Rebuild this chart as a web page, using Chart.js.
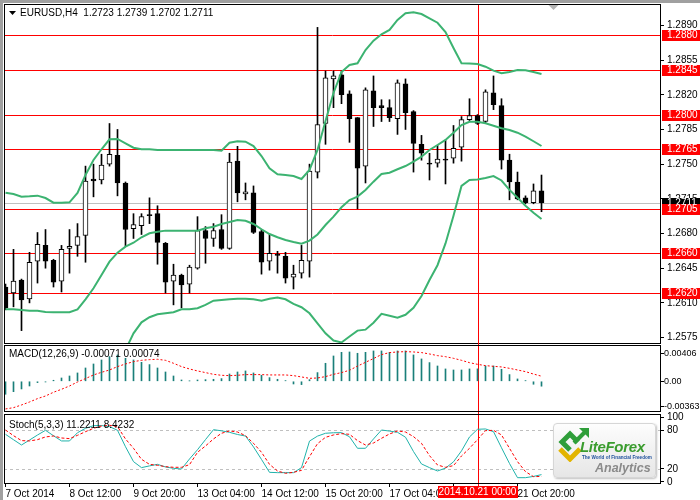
<!DOCTYPE html>
<html><head><meta charset="utf-8">
<script src="https://cdn.jsdelivr.net/npm/chart.js@4"></script>
<style>
html,body{margin:0;padding:0;background:#fff;}
#wrap{position:relative;width:700px;height:500px;overflow:hidden;background:#fff;font-family:"Liberation Sans",Arial,sans-serif;}
canvas{position:absolute;left:0;top:0;pointer-events:none;}
.lbl{position:absolute;font-size:10px;color:#000;white-space:pre;line-height:12px;}
#winTop{position:absolute;left:0;top:0;width:700px;height:3px;background:#a0a0a0;}
#winLeft{position:absolute;left:0;top:0;width:3px;height:500px;background:#a0a0a0;}
#logo{position:absolute;left:553px;top:423px;width:101px;height:53px;border:1px solid #d6d6d6;border-radius:4px;background:linear-gradient(#fdfdfd,#e6e6e6);box-shadow:1px 1px 2px rgba(0,0,0,0.25);overflow:hidden;}
#logo .lf{position:absolute;left:26px;top:14px;font:italic bold 15px "Liberation Sans",Arial,sans-serif;color:#3a9c2e;letter-spacing:-0.3px;white-space:nowrap;}
#logo .tag{position:absolute;left:28px;top:31px;font:bold 4.6px "Liberation Sans",Arial,sans-serif;color:#1d4f9c;white-space:nowrap;}
#logo .an{position:absolute;left:41px;top:37px;font:italic bold 12.5px "Liberation Sans",Arial,sans-serif;color:#8a8a8a;white-space:nowrap;}
</style></head>
<body>
<div id="wrap">
<canvas id="cMain" width="700" height="500"></canvas>
<canvas id="cMacd" width="700" height="500"></canvas>
<canvas id="cStoch" width="700" height="500"></canvas>
<div id="winTop"></div><div id="winLeft"></div>
<div class="lbl" id="tMain" style="left:20px;top:7px"></div>
<div class="lbl" id="tMacd" style="left:9px;top:348px"></div>
<div class="lbl" id="tStoch" style="left:9px;top:419px"></div>
<div id="logo">
 <svg width="34" height="34" viewBox="0 0 34 34" style="position:absolute;left:3px;top:4px">
  <polyline points="3,21 13,31 23,21" fill="none" stroke="#e2b400" stroke-width="5"/>
  <polyline points="13,22 5,14 13,6 21,14" fill="none" stroke="#2f9e3a" stroke-width="5"/>
  <line x1="17" y1="15" x2="28" y2="4" stroke="#2f9e3a" stroke-width="4"/>
  <polygon points="32,0 32,10 22,0" fill="#2f9e3a"/>
 </svg>
 <div class="lf">LiteForex</div>
 <div class="tag">The World of Financial Freedom</div>
 <div class="an">Analytics</div>
</div>
</div>
<script>
// ---------------- DATA ----------------
const symbolName = 'EURUSD,H4';
const opens = [1.2626,1.2620,1.2633,1.2614,1.2652,1.2668,1.2653,1.2632,1.2665,1.2668,
 1.2678,1.2735,1.2734,1.2750,1.2759,1.2731,1.2685,1.2688,1.2699,1.2700,
 1.2670,1.2632,1.2638,1.2629,1.2645,1.2683,1.2675,1.2684,1.2665,1.2753,
 1.2720,1.2721,1.2682,1.2652,1.2659,1.2657,1.2636,1.2640,1.2652,1.2742,
 1.2791,1.2836,1.2840,1.2821,1.2797,1.2748,1.2824,1.2809,1.2807,1.2796,
 1.2831,1.2803,1.2770,1.2751,1.2751,1.2755,1.2756,1.2767,1.2795,1.2799,
 1.2793,1.2822,1.2809,1.2754,1.2732,1.2716,1.2711,1.2723];
const highs = [1.2629,1.2664,1.2634,1.2661,1.2681,1.2684,1.2654,1.2668,1.2684,1.2690,
 1.2748,1.2750,1.2760,1.2791,1.2785,1.2732,1.2700,1.2700,1.2716,1.2708,
 1.2671,1.2649,1.2639,1.2648,1.2697,1.2687,1.2690,1.2699,1.2761,1.2768,
 1.2731,1.2728,1.2684,1.2679,1.2662,1.2661,1.2648,1.2668,1.2750,1.2888,
 1.2844,1.2844,1.2844,1.2824,1.2797,1.2827,1.2839,1.2815,1.2815,1.2835,
 1.2836,1.2804,1.2779,1.2761,1.2769,1.2774,1.2789,1.2798,1.2816,1.2800,
 1.2825,1.2839,1.2816,1.2760,1.2742,1.2718,1.2730,1.2739];
const lows = [1.2603,1.2606,1.2582,1.2610,1.2630,1.2645,1.2626,1.2621,1.2640,1.2657,
 1.2651,1.2717,1.2730,1.2748,1.2718,1.2667,1.2675,1.2679,1.2690,1.2649,
 1.2620,1.2608,1.2605,1.2620,1.2644,1.2650,1.2667,1.2664,1.2664,1.2712,
 1.2714,1.2680,1.2639,1.2643,1.2640,1.2630,1.2624,1.2635,1.2636,1.2736,
 1.2770,1.2807,1.2811,1.2772,1.2705,1.2731,1.2788,1.2793,1.2793,1.2780,
 1.2785,1.2742,1.2754,1.2734,1.2747,1.2730,1.2751,1.2753,1.2794,1.2790,
 1.2791,1.2805,1.2745,1.2714,1.2714,1.2710,1.2710,1.2702];
const closes = [1.2605,1.2632,1.2613,1.2651,1.2669,1.2652,1.2631,1.2664,1.2667,1.2677,
 1.2733,1.2733,1.2749,1.2760,1.2731,1.2684,1.2689,1.2697,1.2698,1.2671,
 1.2631,1.2638,1.2628,1.2646,1.2683,1.2675,1.2683,1.2665,1.2752,1.2721,
 1.2722,1.2681,1.2651,1.2660,1.2658,1.2635,1.2639,1.2653,1.2743,1.2790,
 1.2837,1.2839,1.2820,1.2796,1.2746,1.2825,1.2807,1.2807,1.2797,1.2832,
 1.2802,1.2771,1.2761,1.2750,1.2755,1.2754,1.2766,1.2795,1.2799,1.2791,
 1.2823,1.2810,1.2754,1.2732,1.2715,1.2711,1.2723,1.2711];
const bbUpper = [1.27212,1.27199,1.27172,1.27176,1.27182,1.27158,1.27111,1.27111,1.27115,1.27209,
 1.27391,1.27542,1.27650,1.27751,1.27754,1.27710,1.27666,1.27650,1.27650,1.27643,
 1.27643,1.27643,1.27643,1.27643,1.27643,1.27643,1.27643,1.27636,1.27716,1.27731,
 1.27727,1.27683,1.27582,1.27458,1.27398,1.27391,1.27380,1.27350,1.27441,1.27643,
 1.27935,1.28218,1.28430,1.28500,1.28518,1.28652,1.28746,1.28810,1.28854,1.28955,
 1.29022,1.29032,1.29015,1.28972,1.28927,1.28833,1.28672,1.28518,1.28516,1.28511,
 1.28483,1.28443,1.28417,1.28430,1.28450,1.28447,1.28430,1.28410];
const bbMiddle = [1.26035,1.26035,1.26028,1.26021,1.26021,1.26008,1.26005,1.26005,1.26005,1.26035,
 1.26136,1.26247,1.26382,1.26516,1.26607,1.26667,1.26707,1.26762,1.26802,1.26818,
 1.26829,1.26829,1.26829,1.26829,1.26829,1.26853,1.26869,1.26896,1.26916,1.26936,
 1.26929,1.26896,1.26843,1.26795,1.26762,1.26735,1.26715,1.26697,1.26728,1.26790,
 1.26886,1.26970,1.27065,1.27138,1.27172,1.27239,1.27323,1.27401,1.27414,1.27448,
 1.27481,1.27525,1.27575,1.27643,1.27693,1.27744,1.27817,1.27895,1.27928,1.27928,
 1.27912,1.27888,1.27862,1.27845,1.27817,1.27777,1.27731,1.27683];
const bbLower = [1.24858,1.24871,1.24884,1.24866,1.24860,1.24858,1.24899,1.24899,1.24895,1.24861,
 1.24881,1.24952,1.25114,1.25281,1.25460,1.25624,1.25793,1.25904,1.25955,1.25985,
 1.25995,1.26005,1.26035,1.26035,1.26046,1.26079,1.26122,1.26129,1.26136,1.26142,
 1.26142,1.26136,1.26122,1.26142,1.26153,1.26136,1.26089,1.26056,1.25995,1.25894,
 1.25793,1.25720,1.25700,1.25760,1.25820,1.25830,1.25900,1.25990,1.25970,1.25950,
 1.25980,1.26050,1.26170,1.26330,1.26480,1.26700,1.26980,1.27280,1.27340,1.27345,
 1.27360,1.27380,1.27335,1.27240,1.27160,1.27080,1.27010,1.26947];
const macdMain = [-0.00188,-0.00150,-0.00111,-0.00068,-0.00019,-0.00010,0.00015,0.00048,0.00077,0.00121,
 0.00193,0.00251,0.00309,0.00358,0.00382,0.00333,0.00309,0.00275,0.00242,0.00193,
 0.00135,0.00077,0.00019,0.00005,0.00019,0.00024,0.00029,0.00039,0.00106,0.00135,
 0.00150,0.00121,0.00087,0.00053,0.00029,0.00010,-0.00039,-0.00048,0.00024,0.00126,
 0.00261,0.00367,0.00420,0.00425,0.00406,0.00420,0.00440,0.00440,0.00420,0.00440,
 0.00440,0.00382,0.00324,0.00271,0.00222,0.00179,0.00164,0.00164,0.00179,0.00180,
 0.00222,0.00222,0.00174,0.00097,0.00034,0.00010,-0.00043,-0.00071];
const macdSignal = [-0.00401,-0.00382,-0.00343,-0.00300,-0.00251,-0.00213,-0.00159,-0.00116,-0.00068,-0.00010,
 0.00039,0.00092,0.00130,0.00164,0.00213,0.00251,0.00285,0.00304,0.00314,0.00319,
 0.00304,0.00261,0.00213,0.00179,0.00150,0.00126,0.00101,0.00087,0.00082,0.00087,
 0.00097,0.00097,0.00097,0.00092,0.00092,0.00092,0.00082,0.00063,0.00043,0.00048,
 0.00068,0.00101,0.00126,0.00160,0.00220,0.00275,0.00330,0.00387,0.00416,0.00425,
 0.00430,0.00425,0.00416,0.00396,0.00372,0.00357,0.00333,0.00304,0.00270,0.00246,
 0.00227,0.00217,0.00208,0.00188,0.00164,0.00140,0.00105,0.00074];
const stochMain = [73.8,65.4,57.2,64.9,72.7,80.0,71.6,63.5,63.5,76.3,
 83.1,87.2,87.4,85.7,80.0,54.5,31.4,22.1,24.8,27.2,
 23.1,21.0,20.0,35.5,49.9,65.6,81.0,79.2,76.9,73.5,
 71.1,54.2,34.8,14.8,14.3,14.3,14.3,22.1,63.3,71.0,
 75.4,76.2,76.4,70.0,52.1,52.1,66.6,80.5,78.8,76.9,
 69.3,47.0,27.8,22.1,16.9,21.3,31.1,48.1,69.7,81.6,
 82.1,77.9,52.9,28.5,6.5,6.5,8.5,11.2211];
const stochSignal = [80.5,71.7,64.0,63.5,65.5,69.7,71.2,68.1,67.1,72.2,
 77.9,83.1,86.7,87.8,85.7,66.6,52.1,35.0,27.2,25.7,
 23.6,22.6,22.6,26.7,45.9,55.7,66.6,75.4,79.0,77.4,
 71.7,59.8,45.9,27.2,16.9,13.3,14.8,17.9,39.1,59.3,
 69.1,72.8,74.8,73.8,64.0,57.2,60.3,67.6,74.3,79.0,
 77.4,70.2,59.8,40.7,26.2,22.6,25.2,40.2,52.1,65.5,
 79.5,80.0,72.8,52.1,31.4,15.9,8.1,8.4232];
const levelPrices = [1.2880,1.2845,1.2800,1.2765,1.2705,1.2660,1.2620];
const lastPrice = 1.2711;
const priceTickValues = [1.2575,1.2610,1.2645,1.2680,1.2715,1.2750,1.2785,1.2820,1.2855,1.2890];
const priceTickLabels = ['1.2575','1.2610','1.2645','1.2680','1.2715','1.2750','1.2785','1.2820','1.2855','1.2890'];
const macdTickValues = [0.00406,0,-0.00363];
const macdTickLabels = ['0.00406','0.00','-0.00363'];
const stochTickValues = [100,80,20,0];
const stochTickLabels = ['100','80','20','0'];
const stochLevels = [80,20];
const timeTickIndex = [0,8,16,24,32,40,48,56,64];
const timeTickLabels = ['7 Oct 2014','8 Oct 12:00','9 Oct 20:00','13 Oct 04:00','14 Oct 12:00','15 Oct 20:00','17 Oct 04:00','20 Oct 12:00','21 Oct 20:00'];
const cursorIndex = 59;
const cursorLabel = '2014.10.21 00:00';
const macdTitle = 'MACD(12,26,9) -0.00071 0.00074';
const stochTitle = 'Stoch(5,3,3) 11.2211 8.4232';

// ---------------- VIEW ----------------
const X_MIN = -0.1875, X_MAX = 81.9375, SHIFT_MARK = 68.5;
const PRICE_MIN = 1.25685, PRICE_MAX = 1.29116;
const MACD_MIN = -0.00445, MACD_MAX = 0.00526;
const STOCH_MIN = -3.3, STOCH_MAX = 105.3;
const FONT = '"Liberation Sans", Arial, sans-serif';
const BAND = '#3cb371';
Chart.defaults.font.family = FONT;
Chart.defaults.font.size = 10;
Chart.defaults.color = '#000';

const n = closes.length;
document.getElementById('tMain').textContent = symbolName + '  ' + [opens[n-1],highs[n-1],lows[n-1],closes[n-1]].map(v=>v.toFixed(4)).join(' ');
document.getElementById('tMacd').textContent = macdTitle;
document.getElementById('tStoch').textContent = stochTitle;

const xy = arr => arr.map((v,i)=>({x:i,y:v}));
const px = v => Math.round(v) + 0.5;
function seg(ctx,x1,y1,x2,y2){ctx.beginPath();ctx.moveTo(x1,y1);ctx.lineTo(x2,y2);ctx.stroke();}
function frame(chart){const {ctx,chartArea:a}=chart;ctx.save();ctx.strokeStyle='#000';ctx.lineWidth=1;ctx.setLineDash([]);ctx.strokeRect(a.left+0.5,a.top+0.5,a.right-a.left-1,a.bottom-a.top-1);ctx.restore();}

function xAxis(show){
  const o = {type:'linear',min:X_MIN,max:X_MAX,offset:false,display:show};
  if(show){
    Object.assign(o,{
      position:'bottom',
      afterBuildTicks:s=>{s.ticks=timeTickIndex.map(v=>({value:v}));},
      afterFit:s=>{s.height=16;s.paddingLeft=0;s.paddingRight=0;},
      grid:{drawOnChartArea:false,drawTicks:true,tickLength:3,color:'#000',tickColor:'#000'},
      border:{display:false},
      ticks:{callback:(v,i)=>timeTickLabels[i],align:'start',padding:1,maxRotation:0,minRotation:0,autoSkip:false,color:'#000',font:{size:10}}
    });
  }
  return o;
}
function yAxis(min,max,vals,labels,pad,size){
  return {type:'linear',position:'right',min:min,max:max,
    afterBuildTicks:s=>{s.ticks=vals.map(v=>({value:v}));},
    afterFit:s=>{s.width=39;s.paddingTop=0;s.paddingBottom=0;},
    grid:{drawOnChartArea:false,drawTicks:true,tickLength:3,color:'#000',tickColor:'#000'},
    border:{display:false},
    ticks:{callback:(v,i)=>labels[i],padding:pad,crossAlign:'near',autoSkip:false,color:'#000',font:{size:size}}
  };
}
const common = (pad)=>({responsive:false,animation:false,events:[],
  layout:{padding:pad,autoPadding:false},
  plugins:{legend:{display:false},tooltip:{enabled:false}}});

// ---------- main price panel ----------
const mainDecor = {
  id:'mainDecor',
  beforeDatasetsDraw(chart){
    const {ctx,chartArea:a,scales:{x,y}}=chart;
    ctx.save();ctx.lineWidth=1;
    ctx.strokeStyle='#c0c0c0';
    const ly=px(y.getPixelForValue(lastPrice)); seg(ctx,a.left,ly,a.right,ly);
    ctx.strokeStyle='#ff0000';
    levelPrices.forEach(v=>{const yy=px(y.getPixelForValue(v));seg(ctx,a.left,yy,a.right,yy);});
    const cx=px(x.getPixelForValue(cursorIndex)); seg(ctx,cx,a.top,cx,a.bottom+2);
    ctx.restore();
  },
  afterDraw(chart){
    const {ctx,chartArea:a,scales:{x,y}}=chart;
    frame(chart);
    ctx.save();
    ctx.fillStyle='#000';ctx.beginPath();ctx.moveTo(9,11);ctx.lineTo(16,11);ctx.lineTo(12.5,15);ctx.closePath();ctx.fill();
    const sx=x.getPixelForValue(SHIFT_MARK);
    ctx.fillStyle='#b4b4b4';ctx.beginPath();ctx.moveTo(sx-5,5);ctx.lineTo(sx+5,5);ctx.lineTo(sx,10);ctx.closePath();ctx.fill();
    ctx.font='10px '+FONT;ctx.textBaseline='middle';ctx.textAlign='left';
    const box=(v,bg)=>{const yy=Math.round(y.getPixelForValue(v));ctx.fillStyle=bg;ctx.fillRect(a.right+1,yy-5,chart.width-a.right-1,11);ctx.fillStyle='#fff';ctx.fillText(v.toFixed(4),667,yy+0.5);};
    box(lastPrice,'#000');
    levelPrices.forEach(v=>box(v,'#ff0000'));
    ctx.restore();
  }
};
new Chart(document.getElementById('cMain'),{
  type:'bar',
  data:{datasets:[
    {type:'line',label:'BB upper',data:xy(bbUpper),borderColor:BAND,borderWidth:2,pointRadius:0,tension:0,clip:0,order:0},
    {type:'line',label:'BB middle',data:xy(bbMiddle),borderColor:BAND,borderWidth:2,pointRadius:0,tension:0,clip:0,order:0},
    {type:'line',label:'BB lower',data:xy(bbLower),borderColor:BAND,borderWidth:2,pointRadius:0,tension:0,clip:0,order:0},
    {type:'bar',label:'body',data:closes.map((c,i)=>({x:i,y:[opens[i],c]})),
      backgroundColor:closes.map((c,i)=>c>=opens[i]?'#ffffff':'#000000'),borderColor:'#000',borderWidth:1,borderSkipped:false,barThickness:5,grouped:false,order:1},
    {type:'bar',label:'wick',data:closes.map((c,i)=>({x:i,y:[lows[i],highs[i]]})),backgroundColor:'#000',borderWidth:0,barThickness:1,grouped:false,order:2}
  ]},
  options:Object.assign(common({left:4,right:0,top:4,bottom:156}),{
    scales:{x:xAxis(false),y:yAxis(PRICE_MIN,PRICE_MAX,priceTickValues,priceTickLabels,3,10)}
  }),
  plugins:[mainDecor]
});

// ---------- MACD panel ----------
const macdDecor = {
  id:'macdDecor',
  beforeDatasetsDraw(chart){
    const {ctx,chartArea:a,scales:{x}}=chart;
    ctx.save();ctx.lineWidth=1;ctx.strokeStyle='#ff0000';
    const cx=px(x.getPixelForValue(cursorIndex)); seg(ctx,cx,a.top-2,cx,a.bottom+2);
    ctx.restore();
  },
  afterDraw(chart){frame(chart);}
};
new Chart(document.getElementById('cMacd'),{
  type:'bar',
  data:{datasets:[
    {type:'line',label:'Signal',data:xy(macdSignal),borderColor:'#ff0000',borderWidth:1,borderDash:[2,2],pointRadius:0,tension:0,clip:0,order:0},
    {type:'bar',label:'MACD',data:xy(macdMain),backgroundColor:'#1a7f7a',borderWidth:0,barThickness:1,grouped:false,order:1}
  ]},
  options:Object.assign(common({left:4,right:0,top:345,bottom:88}),{
    scales:{x:xAxis(false),y:yAxis(MACD_MIN,MACD_MAX,macdTickValues,macdTickLabels,0,9)}
  }),
  plugins:[macdDecor]
});

// ---------- Stochastic panel ----------
const stochDecor = {
  id:'stochDecor',
  beforeDatasetsDraw(chart){
    const {ctx,chartArea:a,scales:{x,y}}=chart;
    ctx.save();ctx.lineWidth=1;
    ctx.strokeStyle='#c0c0c0';ctx.setLineDash([3,3]);
    stochLevels.forEach(v=>{const yy=px(y.getPixelForValue(v));seg(ctx,a.left,yy,a.right,yy);});
    ctx.setLineDash([]);ctx.strokeStyle='#ff0000';
    const cx=px(x.getPixelForValue(cursorIndex)); seg(ctx,cx,a.top-2,cx,a.bottom+3);
    ctx.restore();
  },
  afterDraw(chart){
    const {ctx,chartArea:a,scales:{x}}=chart;
    frame(chart);
    ctx.save();
    const cx=x.getPixelForValue(cursorIndex);
    ctx.fillStyle='#ff0000';ctx.fillRect(Math.round(cx-40),a.bottom+2,80,12);
    ctx.fillStyle='#fff';ctx.font='10px '+FONT;ctx.textAlign='center';ctx.textBaseline='middle';
    ctx.fillText(cursorLabel,cx,a.bottom+8.5);
    ctx.restore();
  }
};
new Chart(document.getElementById('cStoch'),{
  type:'line',
  data:{datasets:[
    {label:'Signal',data:xy(stochSignal),borderColor:'#ff0000',borderWidth:1,borderDash:[3,2],pointRadius:0,tension:0,clip:0,order:0},
    {label:'Main',data:xy(stochMain),borderColor:'#20b2aa',borderWidth:1,pointRadius:0,tension:0,clip:0,order:1}
  ]},
  options:Object.assign(common({left:4,right:0,top:414,bottom:0}),{
    scales:{x:xAxis(true),y:yAxis(STOCH_MIN,STOCH_MAX,stochTickValues,stochTickLabels,3,10)}
  }),
  plugins:[stochDecor]
});
</script>
</body></html>
